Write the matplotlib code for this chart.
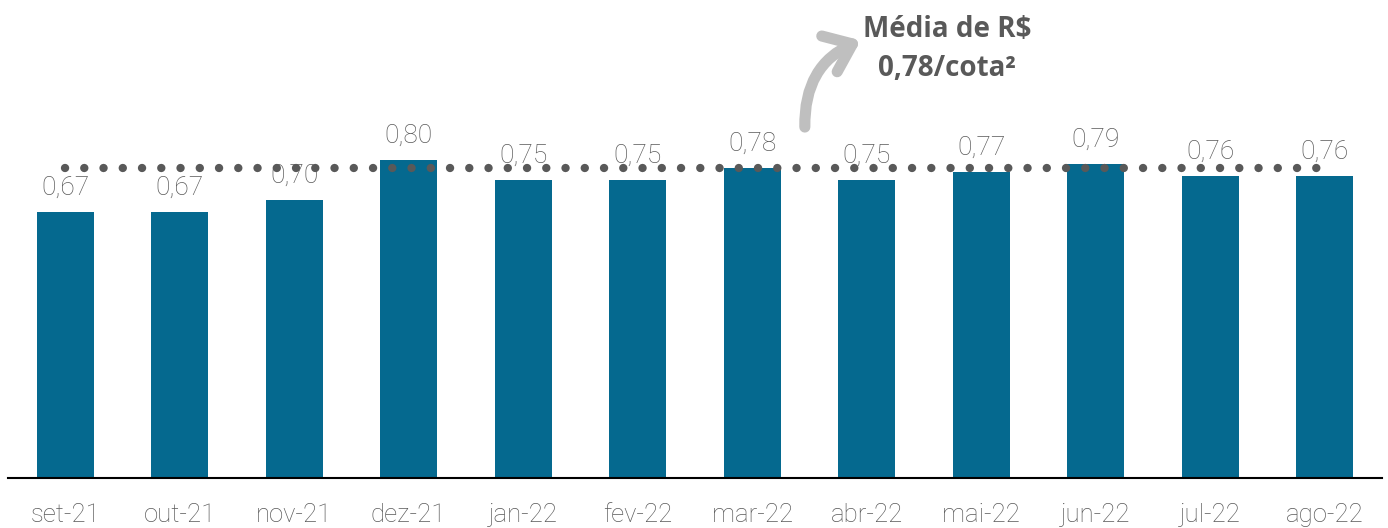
import matplotlib.pyplot as plt
from matplotlib.patches import FancyArrowPatch

meses = ["set-21", "out-21", "nov-21", "dez-21", "jan-22", "fev-22",
         "mar-22", "abr-22", "mai-22", "jun-22", "jul-22", "ago-22"]
dividendos = [0.67, 0.67, 0.70, 0.80, 0.75, 0.75,
              0.78, 0.75, 0.77, 0.79, 0.76, 0.76]
media = 0.78

azul = "#05698f"
cinza = "#595959"

fig = plt.figure(figsize=(13.88, 5.28), dpi=100)
ax = fig.add_axes([8 / 1388, 50 / 528, 1374 / 1388, 478 / 528])

x = list(range(len(meses)))
barras = ax.bar(x, dividendos, width=0.5, color=azul, zorder=2)

for xi, v in zip(x, dividendos):
    ax.annotate(f"{v:.2f}".replace(".", ","), (xi, v), xytext=(0, 9),
                textcoords="offset points", ha="center", va="bottom",
                fontsize=19, color=cinza, family="Roboto", fontweight="light")

# linha da média
ax.plot([x[0], x[-1]], [media, media], linestyle=(0, (0.01, 2.3)), lw=6,
        color=cinza, dash_capstyle="round", zorder=3)

ax.set_xlim(-0.5, 11.5)
ax.set_ylim(0, 1.204)
ax.set_xticks(x)
ax.set_xticklabels(meses, fontsize=18.5, color=cinza, family="Roboto",
                   fontweight="light")
ax.tick_params(axis="x", length=0, pad=18)
ax.set_yticks([])
for s in ["top", "right", "left"]:
    ax.spines[s].set_visible(False)
ax.spines["bottom"].set_linewidth(1.5)
ax.spines["bottom"].set_color("black")

# anotação
ax.text(7.7, 1.08, "Média de R$\n0,78/cota²", ha="center", va="center",
        fontsize=20, fontweight="bold", color=cinza, family="Open Sans",
        linespacing=1.45)
seta = FancyArrowPatch((6.46, 0.877), (6.97, 1.105),
                       connectionstyle="arc3,rad=-0.35",
                       arrowstyle="->,head_length=0.9,head_width=0.7",
                       lw=8, color="#bfbfbf", mutation_scale=20,
                       capstyle="round", joinstyle="round")
ax.add_patch(seta)

fig.savefig("out.png", dpi=100)
